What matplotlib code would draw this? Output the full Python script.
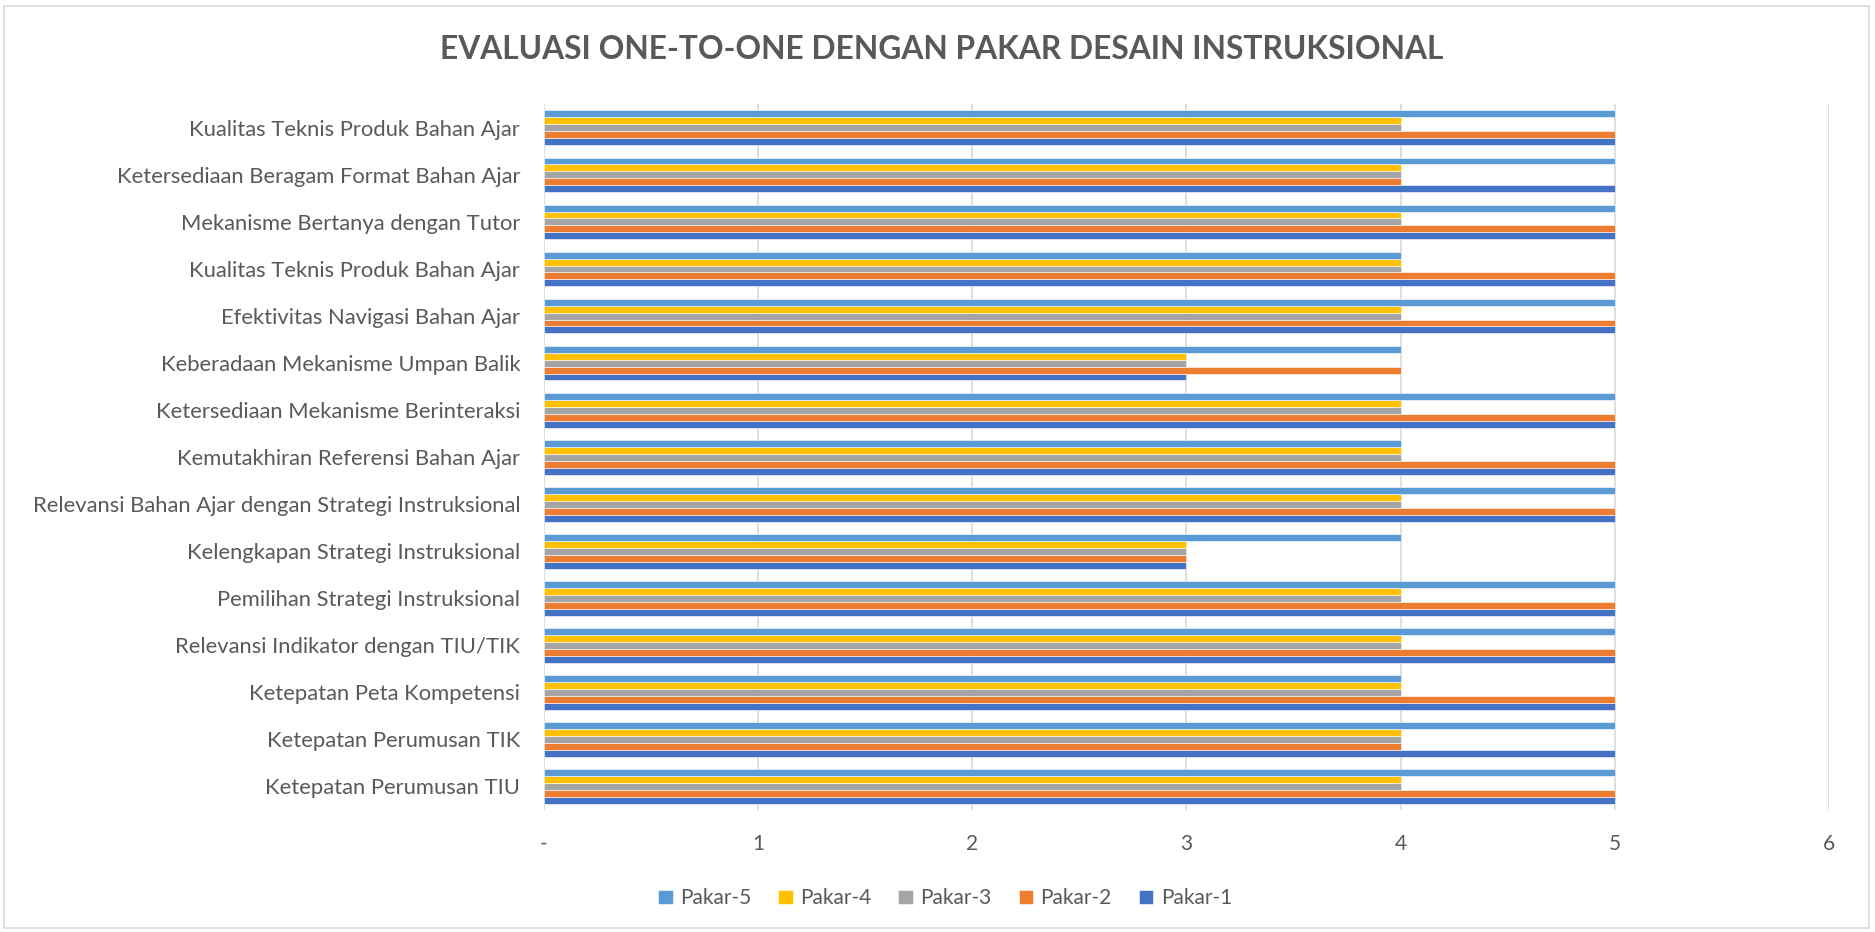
import matplotlib
matplotlib.use("Agg")
import matplotlib.pyplot as plt
from matplotlib.patches import Rectangle
import numpy as np

categories = [
    "Ketepatan Perumusan TIU",
    "Ketepatan Perumusan TIK",
    "Ketepatan Peta Kompetensi",
    "Relevansi Indikator dengan TIU/TIK",
    "Pemilihan Strategi Instruksional",
    "Kelengkapan Strategi Instruksional",
    "Relevansi Bahan Ajar dengan Strategi Instruksional",
    "Kemutakhiran Referensi Bahan Ajar",
    "Ketersediaan Mekanisme Berinteraksi",
    "Keberadaan Mekanisme Umpan Balik",
    "Efektivitas Navigasi Bahan Ajar",
    "Kualitas Teknis Produk Bahan Ajar",
    "Mekanisme Bertanya dengan Tutor",
    "Ketersediaan Beragam Format Bahan Ajar",
    "Kualitas Teknis Produk Bahan Ajar",
]
pakar1 = [5, 5, 5, 5, 5, 3, 5, 5, 5, 3, 5, 5, 5, 5, 5]
pakar2 = [5, 4, 5, 5, 5, 3, 5, 5, 5, 4, 5, 5, 5, 4, 5]
pakar3 = [4, 4, 4, 4, 4, 3, 4, 4, 4, 3, 4, 4, 4, 4, 4]
pakar4 = [4, 4, 4, 4, 4, 3, 4, 4, 4, 3, 4, 4, 4, 4, 4]
pakar5 = [5, 5, 4, 5, 5, 4, 5, 4, 5, 4, 5, 4, 5, 5, 5]
series_names = ["Pakar-1", "Pakar-2", "Pakar-3", "Pakar-4", "Pakar-5"]
series_values = [pakar1, pakar2, pakar3, pakar4, pakar5]
colors = ["#4472C4", "#ED7D31", "#A5A5A5", "#FFC000", "#5B9BD5"]
xtick_labels = ["-", "1", "2", "3", "4", "5", "6"]

plt.rcParams['font.family'] = ['Lato', 'DejaVu Sans']
text_color = "#595959"

fig = plt.figure(figsize=(18.75, 9.32), dpi=100)
fig.patches.append(Rectangle((0.002, 0.004), 0.995, 0.99, transform=fig.transFigure,
                             fill=False, edgecolor="#D9D9D9", linewidth=1.2))
ax = fig.add_axes([0.290, 0.131, 0.6855, 0.757])

n = len(series_names)
y = np.arange(len(categories))
group_h = 0.74
bh = group_h / n
handles = []
for i, (name, vals, c) in enumerate(zip(series_names, series_values, colors)):
    offs = -group_h / 2 + bh * (i + 0.5)
    h = ax.barh(y + offs, vals, height=bh, color=c, label=name,
                edgecolor="white", linewidth=0.4, zorder=3)
    handles.append(h)

ax.set_xlim(0, 6)
ax.set_ylim(-0.5, len(categories) - 0.5)
ax.set_yticks(y)
ax.set_yticklabels(categories, fontsize=15.8, color=text_color)
ax.set_xticks(range(7))
ax.set_xticklabels(xtick_labels, fontsize=15, color=text_color)
ax.tick_params(axis='both', length=0)
ax.tick_params(axis='x', pad=17)
ax.tick_params(axis='y', pad=17)
ax.grid(axis='x', color="#D9D9D9", linewidth=1.2, zorder=0)
for s in ax.spines.values():
    s.set_visible(False)

fig.text(0.502, 0.947, "EVALUASI ONE-TO-ONE DENGAN PAKAR DESAIN INSTRUKSIONAL",
         ha='center', va='center', fontsize=22.9, fontweight='bold', color=text_color)

leg = fig.legend(handles[::-1], series_names[::-1], loc='center', bbox_to_anchor=(0.504, 0.036),
                 ncol=5, frameon=False, fontsize=15, handlelength=0.7, handleheight=0.7,
                 handletextpad=0.35, columnspacing=1.3)
for t in leg.get_texts():
    t.set_color(text_color)

fig.savefig("out.png", dpi=100, facecolor="white")
